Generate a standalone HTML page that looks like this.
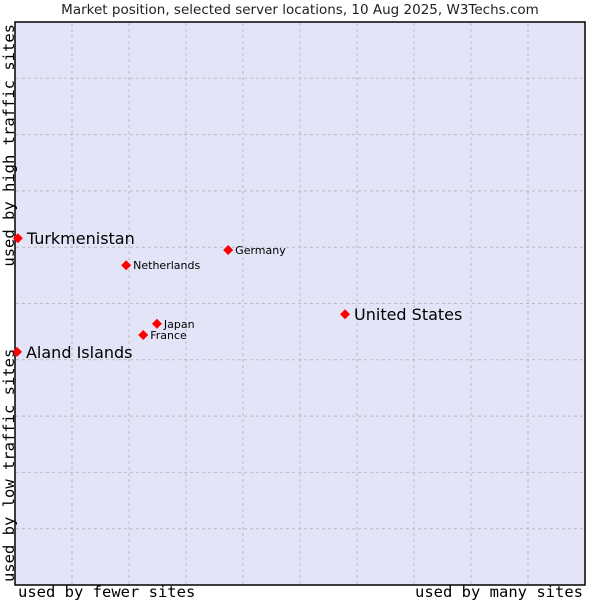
<!DOCTYPE html>
<html><head><meta charset="utf-8"><style>
body{margin:0;background:#fff;width:600px;height:600px;overflow:hidden}
svg text{font-family:"DejaVu Sans","Liberation Sans",sans-serif}
.m{font-family:"DejaVu Sans Mono","Liberation Mono",monospace !important;font-weight:normal}
</style></head><body>
<svg id="c" width="600" height="600">
<text x="300" y="14" text-anchor="middle" font-size="13.5" fill="#222">Market position, selected server locations, 10 Aug 2025, W3Techs.com</text>
<rect x="15" y="22" width="570" height="563" fill="#e4e4f8" stroke="#000" stroke-width="1.5"/>
<g id="grid"></g>
<g id="pts"></g>
<text class="m" x="18" y="597" font-size="15.5">used by fewer sites</text>
<text class="m" x="583" y="597" text-anchor="end" font-size="15.5">used by many sites</text>
<text class="m" transform="translate(14,582) rotate(-90)" font-size="15.5">used by low traffic sites</text>
<text class="m" transform="translate(14,24) rotate(-90)" text-anchor="end" font-size="15.5">used by high traffic sites</text>
</svg>
<script>
const names=["Turkmenistan","Aland Islands","United States","Germany","Netherlands","Japan","France"];
const xs=[0.5,0.35,57.9,37.4,19.5,24.9,22.5];
const ys=[61.6,41.4,48.1,59.5,56.8,46.4,44.4];
const big=[true,true,true,false,false,false,false];
const X=v=>15+v*5.7, Y=v=>585-v*5.63;
const ns="http://www.w3.org/2000/svg";
const g=document.getElementById('grid');
for(let i=1;i<10;i++){
 const l=document.createElementNS(ns,'line');
 l.setAttribute('x1',X(i*10));l.setAttribute('x2',X(i*10));l.setAttribute('y1',23);l.setAttribute('y2',584);
 l.setAttribute('stroke','#bbb');l.setAttribute('stroke-dasharray','3,3');
 
 
 g.appendChild(l);
 const h=document.createElementNS(ns,'line');
 h.setAttribute('y1',Y(i*10));h.setAttribute('y2',Y(i*10));h.setAttribute('x1',16);h.setAttribute('x2',584);
 h.setAttribute('stroke','#bbb');h.setAttribute('stroke-dasharray','3,3');
 
 
 g.appendChild(h);
}
const p=document.getElementById('pts');
names.forEach((n,i)=>{
 const x=X(xs[i]),y=Y(ys[i]);
 const d=document.createElementNS(ns,'polygon');
 d.setAttribute('points',`${x},${y-5} ${x+5},${y} ${x},${y+5} ${x-5},${y}`);
 d.setAttribute('fill','#f00');
 
 
 p.appendChild(d);
 const t=document.createElementNS(ns,'text');
 t.setAttribute('x',x+(big[i]?9:7));t.setAttribute('y',y+(big[i]?6:4));
 t.setAttribute('font-size',big[i]?16:11);
 t.textContent=n;
 
 
 p.appendChild(t);
});
</script>
</body></html>
